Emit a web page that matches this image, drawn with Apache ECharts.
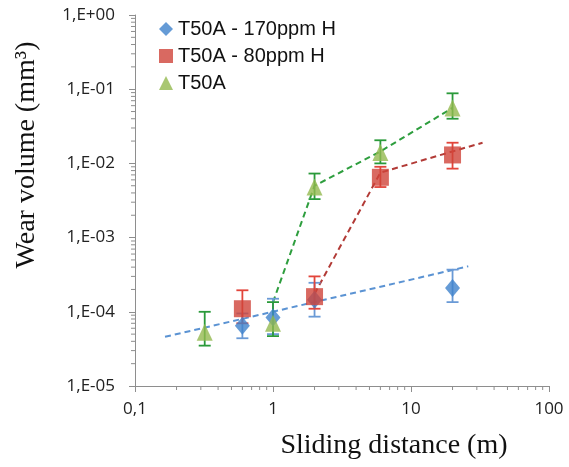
<!DOCTYPE html>
<html>
<head>
<meta charset="utf-8">
<script src="https://cdn.jsdelivr.net/npm/echarts@6/dist/echarts.min.js"></script>
<style>html,body{margin:0;padding:0;background:#fff}#c{width:569px;height:467px}</style>
</head>
<body>
<div id="c"></div>
<script>
// Series names
const names = ['T50A - 170ppm H', 'T50A - 80ppm H', 'T50A'];
// Blue: T50A - 170ppm H
const blueX = [0.6, 1, 2, 20];
const blueY = [6.5e-5, 8.4e-5, 1.45e-4, 2.1e-4];
const blueLow = [4.4e-5, 5.0e-5, 8.6e-5, 1.35e-4];
const blueHigh = [9.5e-5, 1.5e-4, 2.46e-4, 3.7e-4];
// Red: T50A - 80ppm H
const redX = [0.6, 2, 6, 20];
const redY = [1.1e-4, 1.6e-4, 6.5e-3, 1.3e-2];
const redLow = [7.0e-5, 1.1e-4, 4.8e-3, 8.5e-3];
const redHigh = [1.95e-4, 3.0e-4, 9.0e-3, 1.9e-2];
// Green: T50A
const greenX = [0.32, 1, 2, 6, 20];
const greenY = [5.3e-5, 7.0e-5, 4.8e-3, 1.4e-2, 5.6e-2];
const greenLow = [3.5e-5, 4.7e-5, 3.3e-3, 1.0e-2, 4.0e-2];
const greenHigh = [1.0e-4, 1.35e-4, 7.3e-3, 2.05e-2, 8.8e-2];
// Dashed trend lines
const blueTrendX = [0.165, 26];
const blueTrendY = [4.6e-5, 4.1e-4];
const redTrendX = [2, 6, 20, 33];
const redTrendY = [1.75e-4, 7.5e-3, 1.45e-2, 1.9e-2];
const greenTrendX = [1, 2, 6, 20];
const greenTrendY = [1.35e-4, 5.0e-3, 1.45e-2, 5.6e-2];
// Axis ranges / ticks
const xMin = 0.1, xMax = 100;
const yMin = 1e-5, yMax = 1;
const xDecades = [0.1, 1, 10];
const yDecades = [1e-5, 1e-4, 1e-3, 1e-2, 1e-1];
const minorMult = [2, 3, 4, 5, 6, 7, 8, 9];

const pts = (xs, ys) => xs.map((x, i) => [x, ys[i]]);
const errs = (xs, lo, hi) => xs.map((x, i) => [x, lo[i], hi[i]]);

function errSeries(xs, lo, hi, color) {
  return {
    type: 'custom',
    z: 2,
    data: errs(xs, lo, hi),
    encode: { x: 0, y: [1, 2] },
    silent: true,
    renderItem: function (params, api) {
      const x = api.value(0);
      const a = api.coord([x, api.value(1)]);
      const b = api.coord([x, api.value(2)]);
      const w = 6;
      const st = { stroke: color, lineWidth: 1.8 };
      return {
        type: 'group',
        children: [
          { type: 'line', shape: { x1: a[0], y1: a[1], x2: b[0], y2: b[1] }, style: st },
          { type: 'line', shape: { x1: a[0] - w, y1: a[1], x2: a[0] + w, y2: a[1] }, style: st },
          { type: 'line', shape: { x1: b[0] - w, y1: b[1], x2: b[0] + w, y2: b[1] }, style: st }
        ]
      };
    }
  };
}

function trend(xs, ys, color) {
  return {
    type: 'line', data: pts(xs, ys), symbol: 'none', z: 1, silent: true,
    lineStyle: { color: color, width: 2, type: [6, 4] }
  };
}

// minor log ticks (true logarithmic spacing)
const minorTickData = [];
xDecades.forEach(d => minorMult.forEach(m => minorTickData.push([d * m, yMin, 0])));
yDecades.forEach(d => minorMult.forEach(m => minorTickData.push([xMin, d * m, 1])));

const tickColor = '#8e8e8e';
const chart = echarts.init(document.getElementById('c'));
chart.setOption({
  animation: false,
  backgroundColor: '#fff',
  grid: { left: 135, right: 20, top: 15, bottom: 81 },
  legend: {
    orient: 'vertical', left: 154, top: 14, itemGap: 7,
    itemWidth: 14, itemHeight: 14,
    textStyle: { fontFamily: 'Liberation Sans', fontSize: 20, color: '#111' },
    data: names
  },
  xAxis: {
    type: 'log', logBase: 10, min: xMin, max: xMax,
    axisLine: { lineStyle: { color: tickColor, width: 1 } },
    axisTick: { show: true, length: 6, lineStyle: { color: tickColor } },
    splitLine: { show: false },
    axisLabel: {
      margin: 15, fontFamily: 'Open Sans', fontSize: 17, color: '#222',
      formatter: v => (v < 1 ? '0,1' : String(Math.round(v)))
    }
  },
  yAxis: {
    type: 'log', logBase: 10, min: yMin, max: yMax,
    axisLine: { show: true, lineStyle: { color: tickColor, width: 1 } },
    axisTick: { show: true, length: 6, lineStyle: { color: tickColor } },
    splitLine: { show: false },
    axisLabel: {
      margin: 20, fontFamily: 'Open Sans', fontSize: 17, color: '#222',
      formatter: v => {
        const e = Math.round(Math.log10(v));
        return '1,E' + (e < 0 ? '-' : '+') + String(Math.abs(e)).padStart(2, '0');
      }
    }
  },
  graphic: [
    { type: 'text', x: 27, y: 155, rotation: Math.PI / 2,
      style: { text: 'Wear volume (mm³)', font: '28px "Liberation Serif"', fill: '#111', textAlign: 'center', textVerticalAlign: 'middle' } },
    { type: 'text', x: 394, y: 446,
      style: { text: 'Sliding distance (m)', font: '28px "Liberation Serif"', fill: '#111', textAlign: 'center', textVerticalAlign: 'middle' } }
  ],
  series: [
    {
      type: 'custom', clip: false, silent: true, z: 0,
      data: minorTickData,
      encode: { x: 0, y: 1 },
      renderItem: function (params, api) {
        const p = api.coord([api.value(0), api.value(1)]);
        const horiz = api.value(2) === 1;
        const st = { stroke: tickColor, lineWidth: 1 };
        return horiz
          ? { type: 'line', shape: { x1: p[0] - 4, y1: p[1], x2: p[0], y2: p[1] }, style: st }
          : { type: 'line', shape: { x1: p[0], y1: p[1], x2: p[0], y2: p[1] + 4 }, style: st };
      }
    },
    trend(blueTrendX, blueTrendY, '#5b93d3'),
    trend(redTrendX, redTrendY, '#b23a36'),
    trend(greenTrendX, greenTrendY, '#2e9e3e'),
    errSeries(blueX, blueLow, blueHigh, '#6a9ad6'),
    errSeries(redX, redLow, redHigh, '#e2453b'),
    errSeries(greenX, greenLow, greenHigh, '#2a9a3a'),
    { name: names[0], type: 'scatter', data: pts(blueX, blueY), symbol: 'diamond', symbolSize: [15, 18], z: 3,
      itemStyle: { color: '#3f82cc' } },
    { name: names[1], type: 'scatter', data: pts(redX, redY), symbol: 'rect', symbolSize: 17, z: 4,
      itemStyle: { color: '#d0443a' } },
    { name: names[2], type: 'scatter', data: pts(greenX, greenY), symbol: 'triangle', symbolSize: [16, 17], z: 5,
      itemStyle: { color: '#93b94f' } }
  ]
});
</script>
</body>
</html>
